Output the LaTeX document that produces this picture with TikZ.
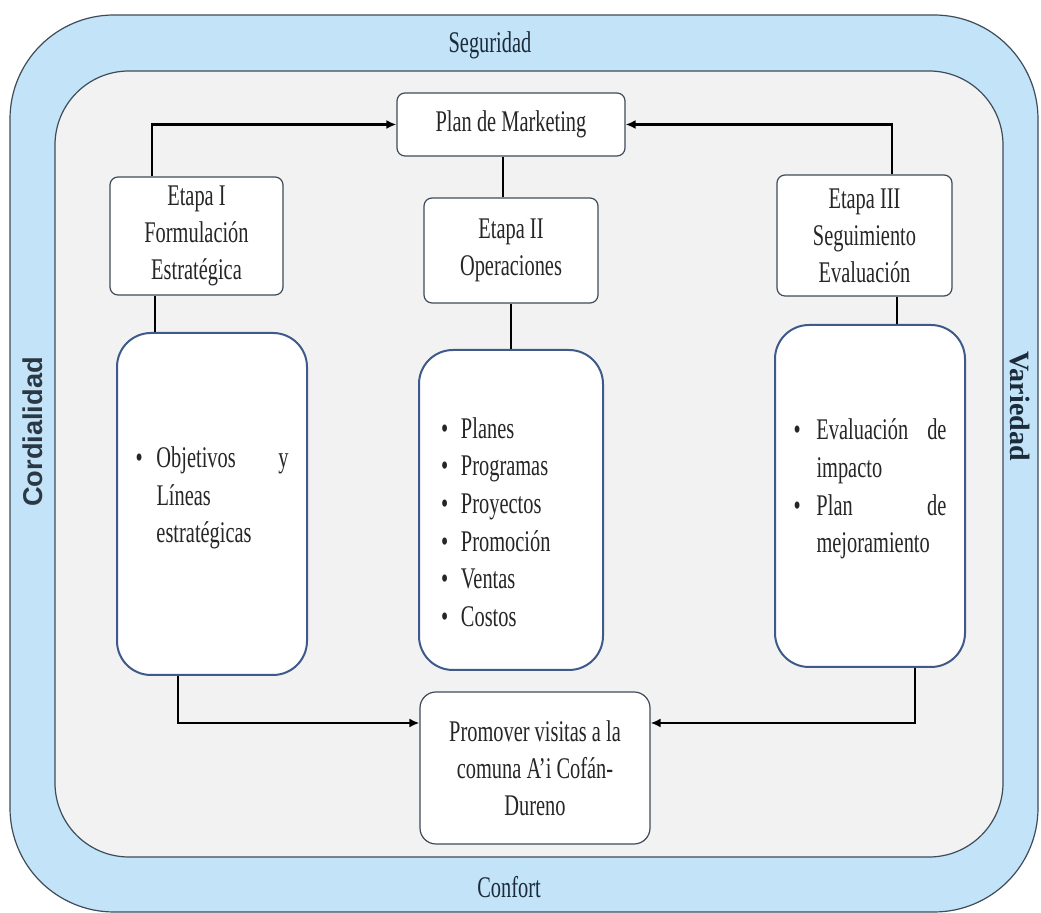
\documentclass[tikz,border=0pt]{standalone}
\usepackage{fontspec}
\setmainfont{Liberation Serif}[FakeStretch=0.68]
\newfontfamily\sidesans{Liberation Sans}
\newfontfamily\sideserif{Liberation Serif}
\usetikzlibrary{arrows.meta}
\definecolor{skyband}{HTML}{C2E3F8}
\definecolor{panelgray}{HTML}{F2F2F2}
\definecolor{framegray}{HTML}{3E4C5A}
\definecolor{listblue}{HTML}{3D5A8A}
\definecolor{inkgray}{HTML}{262626}
\definecolor{labelnavy}{HTML}{1C2B3A}
\hyphenpenalty=10000
\exhyphenpenalty=10000
\newcommand{\bul}[2]{\hangindent=#1\hangafter=1\noindent\makebox[#1][l]{\textbullet}#2\par}
\begin{document}
\begin{tikzpicture}[x=0.5pt,y=-0.5pt,
  font=\fontsize{15}{18.5}\selectfont,
  stepbox/.style={draw=framegray, line width=0.6pt, fill=white, rounded corners=4pt, align=center, text=inkgray, inner sep=0pt},
  listbox/.style={draw=listblue, line width=1pt, fill=white, rounded corners=17pt, text=inkgray, inner sep=0pt, align=justify, font=\fontsize{15}{18.8}\selectfont},
  link/.style={line width=0.9pt},
  flow/.style={line width=1.3pt, -{Latex[length=5pt,width=4.5pt]}}]
\useasboundingbox (0,0) rectangle (1041,913);
\draw[draw=framegray, line width=0.6pt, fill=skyband, rounded corners=52pt] (10,15) rectangle (1038,912);
\draw[draw=framegray, line width=0.6pt, fill=panelgray, rounded corners=37pt] (55,71) rectangle (1003,857);
\node[text=labelnavy] (seguridad) at (490,45) {Seguridad};
\node[text=labelnavy] (confort) at (509,887) {Confort};
\node[rotate=90, text=labelnavy!85!gray, font=\sidesans\bfseries\fontsize{13.6}{16}\selectfont] (cordialidad) at (33,432) {Cordialidad};
\node[rotate=-90, text=labelnavy, font=\sideserif\bfseries\fontsize{14}{16}\selectfont] (variedad) at (1020,406) {Variedad};
\node[stepbox, minimum width=114pt, minimum height=31.5pt] (plan) at (511,124.5) {Plan de Marketing};
\node[stepbox, minimum width=86.5pt, minimum height=59pt] (etapa1) at (196.5,236) {Etapa I\\Formulación\\Estratégica};
\node[stepbox, minimum width=87pt, minimum height=52.5pt] (etapa2) at (511,250.5) {Etapa II\\Operaciones};
\node[stepbox, minimum width=87.5pt, minimum height=60.5pt] (etapa3) at (864.5,235.5) {Etapa III\\Seguimiento\\Evaluación};
\node[listbox, text width=76.5pt, minimum width=95pt, minimum height=171pt] (lista1) at (212,504) {\bul{10.5pt}{Objetivos y\linebreak Líneas\linebreak estratégicas}\vspace*{6pt}};
\node[listbox, align=left, text width=70pt, minimum width=92pt, minimum height=160pt] (lista2) at (511,510) {\bul{10pt}{Planes}\bul{10pt}{Programas}\bul{10pt}{Proyectos}\bul{10pt}{Promoción}\bul{10pt}{Ventas}\bul{10pt}{Costos}\vspace*{-12pt}};
\node[listbox, text width=76.5pt, minimum width=95pt, minimum height=171pt] (lista3) at (870,496) {\bul{11.5pt}{Evaluación de\linebreak impacto}\bul{11.5pt}{Plan de\linebreak mejoramiento}\vspace*{7pt}};
\node[stepbox, rounded corners=8pt, minimum width=115pt, minimum height=76pt] (promover) at (535,768) {Promover visitas a la\\comuna A’i Cofán-\\Dureno};
\draw[flow] ([xshift=-22.25pt]etapa1.north) |- (plan.west);
\draw[flow] ([xshift=13.75pt]etapa3.north) |- (plan.east);
\draw[link] ([xshift=-4pt]plan.south) -- ([xshift=-4pt]plan.south |- etapa2.north);
\draw[link] (etapa2.south) -- (lista2.north);
\draw[link] ([xshift=-20.75pt]etapa1.south) -- ([xshift=-20.75pt]etapa1.south |- lista1.north);
\draw[link] ([xshift=16.25pt]etapa3.south) -- ([xshift=16.25pt]etapa3.south |- lista3.north);
\draw[flow] ([xshift=-17pt]lista1.south) |- ([yshift=22.5pt]promover.west);
\draw[flow] ([xshift=22.5pt]lista3.south) |- ([yshift=22.5pt]promover.east);
\end{tikzpicture}
\end{document}
